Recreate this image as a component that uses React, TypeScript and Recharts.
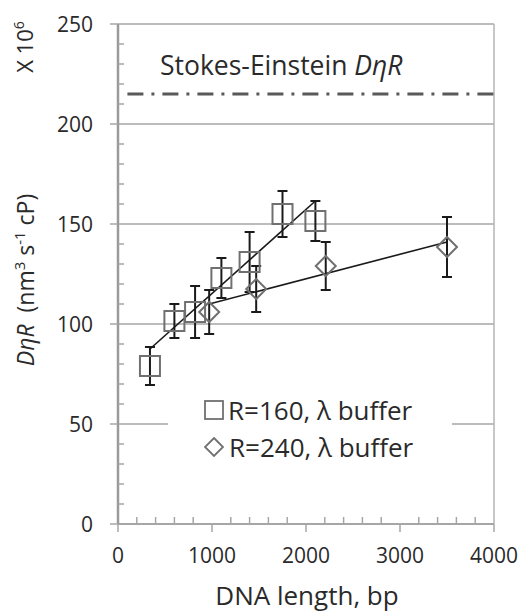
import React from "react";
import {
  ComposedChart,
  Scatter,
  XAxis,
  YAxis,
  ErrorBar,
  ReferenceLine,
  Legend,
} from "recharts";

// R=160, λ buffer (squares)
const r160Bp = [340, 600, 820, 1100, 1400, 1750, 2100];
const r160Val = [79, 101.5, 106, 123, 131, 155, 151.5];
const r160Err = [9.5, 8.5, 13, 10, 15, 11.5, 10];

// R=240, λ buffer (diamonds)
const r240Bp = [970, 1470, 2210, 3500];
const r240Val = [106, 117.5, 129, 138.5];
const r240Err = [11, 11.5, 12, 15];

// linear fits drawn through each set
const trend160Bp = [340, 2100];
const trend160Val = [87.5, 161.5];
const trend240Bp = [970, 3500];
const trend240Val = [110, 141];

// Stokes-Einstein reference level
const stokesValue = 215;
const stokesStart = 100;
const stokesEnd = 4000;

const xTicks = [0, 200, 400, 600, 800, 1000, 1200, 1400, 1600, 1800, 2000, 2200, 2400, 2600, 2800, 3000, 3200, 3400, 3600, 3800, 4000];
const yTicks = [0, 10, 20, 30, 40, 50, 60, 70, 80, 90, 100, 110, 120, 130, 140, 150, 160, 170, 180, 190, 200, 210, 220, 230, 240, 250];
const gridValues = [50, 100, 150, 200, 250];

const FONT = "'Open Sans', sans-serif";
const TEXT = "#2a2a2a";
const GRID = "#a6a6a6";
const MARK = "#707070";

const toPoints = (bp: number[], val: number[], err?: number[]) =>
  bp.map((b, i) => ({ bp: b, v: val[i], err: err ? err[i] : 0 }));

const data160 = toPoints(r160Bp, r160Val, r160Err);
const data240 = toPoints(r240Bp, r240Val, r240Err);
const fit160 = toPoints(trend160Bp, trend160Val);
const fit240 = toPoints(trend240Bp, trend240Val);

function XTick(props: any) {
  const { x, y, payload } = props;
  const major = payload.value % 1000 === 0;
  return (
    <g>
      <line x1={x} x2={x} y1={y} y2={major ? y + 8 : y - 7} stroke={GRID} strokeWidth={1.5} />
      {major && (
        <text x={x} y={y + 39} textAnchor="middle" fontFamily={FONT} fontSize={21} fill={TEXT}>
          {payload.value}
        </text>
      )}
    </g>
  );
}

function YTick(props: any) {
  const { x, y, payload } = props;
  const major = payload.value % 50 === 0;
  return (
    <g>
      <line x1={major ? x - 8 : x} x2={major ? x : x + 6} y1={y} y2={y} stroke={GRID} strokeWidth={1.5} />
      {major && (
        <text x={x - 25} y={y} dy="0.36em" textAnchor="end" fontFamily={FONT} fontSize={21} fill={TEXT}>
          {payload.value}
        </text>
      )}
    </g>
  );
}

const Square = (props: any) => (
  <rect x={props.cx - 10} y={props.cy - 10} width={20} height={20} fill="none" stroke={MARK} strokeWidth={2} />
);

const Diamond = (props: any) => {
  const { cx, cy } = props;
  return (
    <polygon
      points={`${cx},${cy - 10} ${cx + 10},${cy} ${cx},${cy + 10} ${cx - 10},${cy}`}
      fill="none"
      stroke={MARK}
      strokeWidth={2}
    />
  );
};

const NoDot = () => <g />;

function YTitle() {
  return (
    <g fontFamily={FONT} fill={TEXT}>
      <text transform="rotate(-90 33 47)" x={33} y={47} textAnchor="middle" fontSize={22}>
        X 10<tspan dy={-9} fontSize={14}>6</tspan>
      </text>
      <text transform="rotate(-90 34 280)" x={34} y={280} textAnchor="middle" fontSize={23}>
        <tspan fontStyle="italic">DηR</tspan>
        <tspan>{"\u00a0\u00a0(nm"}</tspan>
        <tspan dy={-9} fontSize={15}>3</tspan>
        <tspan dy={9}>{"\u00a0s"}</tspan>
        <tspan dy={-9} fontSize={15}>-1</tspan>
        <tspan dy={9}>{"\u00a0cP)"}</tspan>
      </text>
    </g>
  );
}

function XTitle() {
  return (
    <text x={307} y={605} textAnchor="middle" fontFamily={FONT} fontSize={26} fill={TEXT}>
      DNA length, bp
    </text>
  );
}

function StokesLabel() {
  return (
    <text x={160} y={75} fontFamily={FONT} fontSize={26.5} fill={TEXT}>
      Stokes-Einstein <tspan fontStyle="italic">DηR</tspan>
    </text>
  );
}

function LegendBox() {
  const row = { display: "flex", alignItems: "center", height: 37 } as const;
  return (
    <div
      style={{
        background: "#fff",
        width: 284,
        height: 74,
        paddingLeft: 36,
        boxSizing: "border-box",
        fontFamily: FONT,
        fontSize: 26,
        color: TEXT,
        lineHeight: 1,
      }}
    >
      <div style={row}>
        <svg width={20} height={20}>
          <rect x={1} y={1} width={18} height={18} fill="none" stroke={MARK} strokeWidth={1.8} />
        </svg>
        <span style={{ marginLeft: 4 }}>R=160, λ buffer</span>
      </div>
      <div style={row}>
        <svg width={20} height={20}>
          <polygon points="10,1 19,10 10,19 1,10" fill="none" stroke={MARK} strokeWidth={1.8} />
        </svg>
        <span style={{ marginLeft: 5 }}>R=240, λ buffer</span>
      </div>
    </div>
  );
}

export default function App() {
  return (
    <div style={{ position: "absolute", left: 0, top: 0 }}>
      <ComposedChart width={522} height={612} margin={{ top: 24, right: 28, bottom: 0, left: 0 }}>
        <XAxis
          type="number"
          dataKey="bp"
          domain={[0, 4000]}
          ticks={xTicks}
          interval={0}
          height={88}
          tickSize={0}
          tickMargin={0}
          tick={XTick}
          axisLine={{ stroke: GRID, strokeWidth: 2 }}
          label={{ content: XTitle }}
        />
        <YAxis
          type="number"
          dataKey="v"
          domain={[0, 250]}
          ticks={yTicks}
          interval={0}
          width={118}
          tickSize={0}
          tickMargin={0}
          tick={YTick}
          axisLine={{ stroke: "#9a9a9a", strokeWidth: 2.5 }}
          label={{ content: YTitle }}
        />
        {gridValues.map((g) => (
          <ReferenceLine key={g} y={g} stroke={GRID} strokeWidth={1.5} />
        ))}
        <ReferenceLine x={4000} stroke="#b4b4b4" strokeWidth={1.5} />
        <ReferenceLine
          segment={[
            { x: stokesStart, y: stokesValue },
            { x: stokesEnd, y: stokesValue },
          ]}
          stroke="#595959"
          strokeWidth={3}
          strokeDasharray="16 8 3 8"
          label={{ content: StokesLabel }}
        />
        <Legend
          layout="vertical"
          align="center"
          verticalAlign="middle"
          content={<LegendBox />}
          wrapperStyle={{ left: 168, top: 391, width: 284, height: 74 }}
        />
        <Scatter data={fit160} line={{ stroke: "#1a1a1a", strokeWidth: 1.6 }} shape={NoDot} legendType="none" isAnimationActive={false} />
        <Scatter data={fit240} line={{ stroke: "#1a1a1a", strokeWidth: 1.6 }} shape={NoDot} legendType="none" isAnimationActive={false} />
        <Scatter data={data160} shape={Square} isAnimationActive={false}>
          <ErrorBar dataKey="err" direction="y" width={5} stroke="#1a1a1a" strokeWidth={2} />
        </Scatter>
        <Scatter data={data240} shape={Diamond} isAnimationActive={false}>
          <ErrorBar dataKey="err" direction="y" width={5} stroke="#1a1a1a" strokeWidth={2} />
        </Scatter>
      </ComposedChart>
    </div>
  );
}
